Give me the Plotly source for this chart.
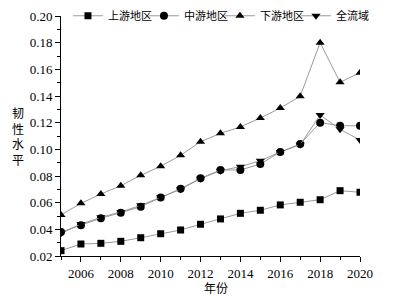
import plotly.graph_objects as go

years = list(range(2005, 2021))
upper = [0.024, 0.029, 0.0295, 0.031, 0.0337, 0.0367, 0.0395, 0.0438, 0.0478, 0.052, 0.0543, 0.0583, 0.0603, 0.0622, 0.069, 0.0678]
middle = [0.038, 0.043, 0.0483, 0.0525, 0.057, 0.0638, 0.0705, 0.0783, 0.0845, 0.0845, 0.089, 0.098, 0.104, 0.120, 0.1177, 0.1177]
lower = [0.0508, 0.0595, 0.0665, 0.0727, 0.0805, 0.0873, 0.0955, 0.1057, 0.112, 0.1168, 0.1235, 0.131, 0.1398, 0.180, 0.1503, 0.1575]
whole = [0.037, 0.044, 0.049, 0.053, 0.058, 0.064, 0.070, 0.078, 0.084, 0.087, 0.0915, 0.098, 0.1035, 0.1258, 0.115, 0.107]

names = ["上游地区", "中游地区", "下游地区", "全流域"]
series = [upper, middle, lower, whole]
symbols = ["square", "circle", "triangle-up", "triangle-down"]
sizes = [7, 8, 8, 8]

serif = "Liberation Serif, Times New Roman, serif"
cjk = "Noto Sans CJK SC"

fig = go.Figure()
for n, s, sym, sz in zip(names, series, symbols, sizes):
    fig.add_trace(go.Scatter(
        x=years, y=s, name=n, mode="lines+markers",
        line=dict(color="#8f8f8f", width=0.9),
        marker=dict(symbol=sym, size=sz, color="black"),
    ))

axis_common = dict(
    showline=True, linecolor="black", linewidth=1,
    ticks="outside", ticklen=5, tickwidth=1, tickcolor="black",
    showgrid=False, zeroline=False,
    tickfont=dict(family=serif, size=13, color="black"),
)

fig.update_xaxes(
    range=[2005, 2020], tickvals=[2006, 2008, 2010, 2012, 2014, 2016, 2018, 2020],
    minor=dict(dtick=1, tick0=2005, ticks="outside", ticklen=3, tickcolor="black", tickwidth=1),
    **axis_common,
)
fig.update_yaxes(
    range=[0.02, 0.20], dtick=0.02, tickformat=".2f",
    minor=dict(dtick=0.01, ticks="outside", ticklen=3, tickcolor="black", tickwidth=1),
    **axis_common,
)

fig.add_annotation(
    text="韧<br>性<br>水<br>平", xref="paper", yref="paper", x=-0.144, y=0.5,
    showarrow=False, font=dict(family=cjk, size=12, color="black"),
    xanchor="center", yanchor="middle",
)
fig.add_annotation(
    text="年份", xref="paper", yref="paper", x=0.518, y=-0.133,
    showarrow=False, font=dict(family=cjk, size=12, color="black"),
    xanchor="center", yanchor="middle",
)

# page body has an 8px margin, so the figure is sized to fit the window exactly
fig.update_layout(
    width=390, height=294, autosize=False,
    margin=dict(l=53, r=38, t=8, b=46, autoexpand=False),
    paper_bgcolor="white", plot_bgcolor="white",
    showlegend=True,
    legend=dict(
        orientation="h", x=1.040, y=1.001, xanchor="right", yanchor="middle",
        font=dict(family=cjk, size=11, color="black"),
        itemwidth=30, entrywidth=31,
        bgcolor="rgba(0,0,0,0)", borderwidth=0,
    ),
)

fig.write_html("out.html")
